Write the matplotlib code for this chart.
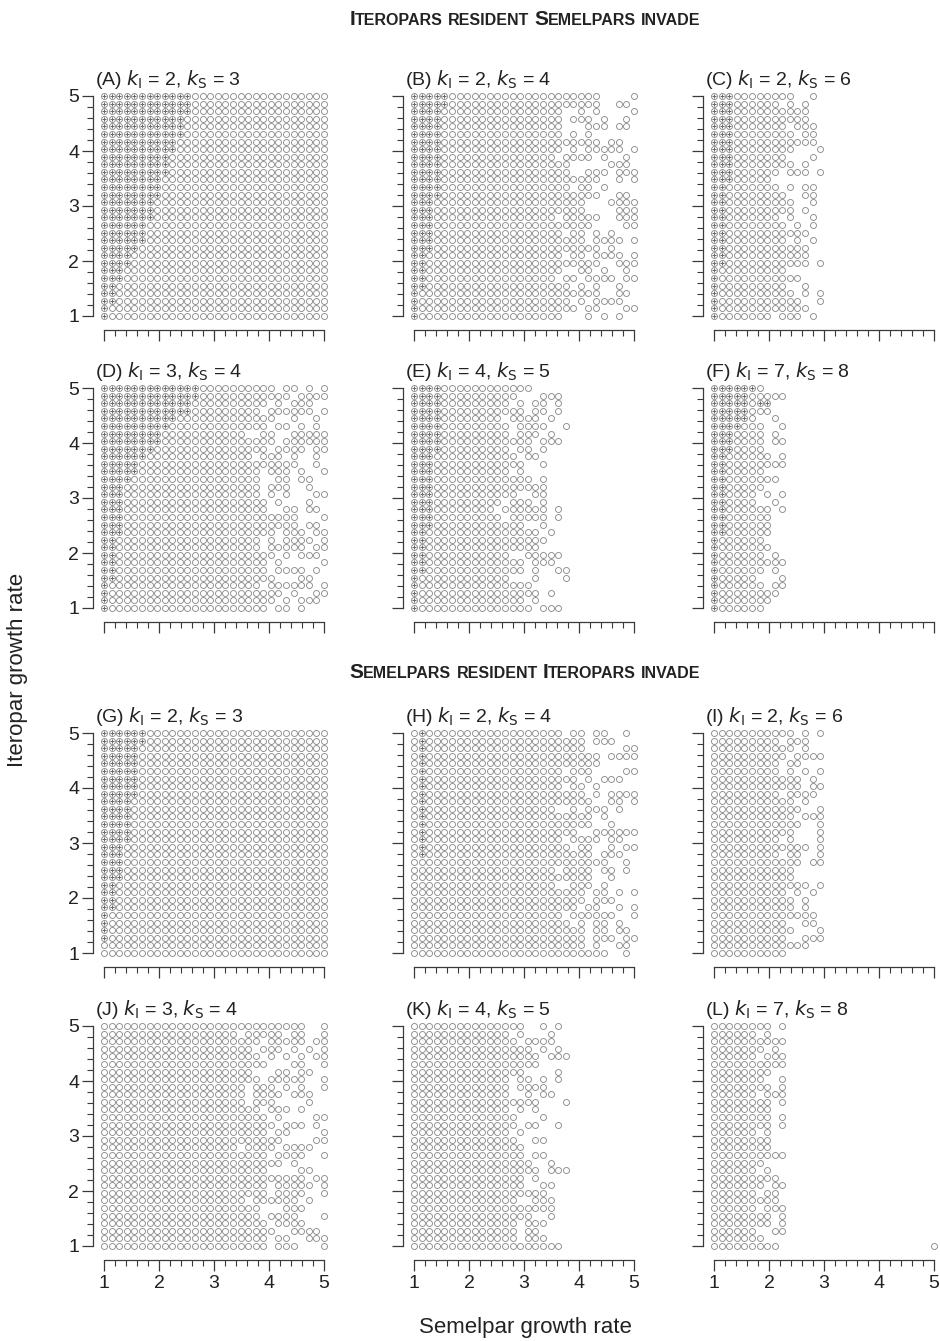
import numpy as np
import matplotlib
matplotlib.use("Agg")
import matplotlib.pyplot as plt

NARROW = ['Liberation Sans Narrow', 'Liberation Sans', 'DejaVu Sans']
plt.rcParams['font.family'] = NARROW
plt.rcParams['mathtext.fontset'] = 'custom'
plt.rcParams['mathtext.rm'] = 'Liberation Sans Narrow'
plt.rcParams['mathtext.it'] = 'Liberation Sans Narrow:italic'

# growth rates used on both axes (30 x 30 grid)
growth = np.linspace(1, 5, 30)
tick_labels = ['1', '2', '3', '4', '5']

titles = [r'(A) $k_\mathrm{I}$ = 2, $k_\mathrm{S}$ = 3', r'(B) $k_\mathrm{I}$ = 2, $k_\mathrm{S}$ = 4',
          r'(C) $k_\mathrm{I}$ = 2, $k_\mathrm{S}$ = 6', r'(D) $k_\mathrm{I}$ = 3, $k_\mathrm{S}$ = 4',
          r'(E) $k_\mathrm{I}$ = 4, $k_\mathrm{S}$ = 5', r'(F) $k_\mathrm{I}$ = 7, $k_\mathrm{S}$ = 8',
          r'(G) $k_\mathrm{I}$ = 2, $k_\mathrm{S}$ = 3', r'(H) $k_\mathrm{I}$ = 2, $k_\mathrm{S}$ = 4',
          r'(I) $k_\mathrm{I}$ = 2, $k_\mathrm{S}$ = 6', r'(J) $k_\mathrm{I}$ = 3, $k_\mathrm{S}$ = 4',
          r'(K) $k_\mathrm{I}$ = 4, $k_\mathrm{S}$ = 5', r'(L) $k_\mathrm{I}$ = 7, $k_\mathrm{S}$ = 8']

# each row is read top (iteropar rate 5) to bottom (rate 1); entries are
# column indices (semelpar rate 1 -> 0 ... 5 -> 29) that carry a circle
a_rows = ['0-29'] * 30
a_dots = ['0-11', '0-11', '0-11', '0-10', '0-10', '0-10', '0-9', '0-9', '0-8', '0-8',
          '0-8', '0-7', '0-7', '0-7', '0-6', '0-6', '0-6', '0-5', '0-5', '0-5',
          '0-4', '0-3', '0-3', '0-2', '0-2', '0-1', '0-1', '0-1', '0', '0']

b_rows = ['0-24,29', '0-24,27-28', '0-19,22,24,29', '0-19,21-23,25,28', '0-19,23-25,27-28',
          '0-19,21,23', '0-24,26-27', '0-19,21,23-27,29', '0-18,20-23,25,28', '0-20,26-28',
          '0-20,23-25,27-29', '0-24,27,29', '0-20,22-23,25', '0-24,27-28', '0-22,26-29',
          '0-22,27-29', '0-18,20-24,27-29', '0-23,28-29', '0-19,21-22,24,26', '0-22,24-27,29',
          '0-24,26', '0-19,21-22,24-27,29', '0-24,27-29', '0-19,22-23,25,28', '0-18,20-21,23-26,28-29',
          '0-20,22,24,27', '0-24,27-28', '0-20,22,24-27', '0-21,23-24,28-29', '0-19,23,25,27']
b_dots = ['0-4', '0-4', '0-3', '0-3', '0-3', '0-3', '0-3', '0-3', '0-3', '0-3',
          '0-3', '0-3', '0-3', '0-3', '0-2', '0-2', '0-2', '0-2', '0-2', '0-2',
          '0-2', '0-1', '0-1', '0-1', '0-1', '0-1', '0', '0', '0', '0']

c_rows = ['0-10,13', '0-8,10,12', '0-12', '0-12', '0-9,11-13', '0-10,12-13', '0-13', '0-10,14',
          '0-9,13', '0-10,12', '0-8,10-12,14', '0-7', '0-8,10,12-13', '0-9,12-13', '0-10,13',
          '0-10,12', '0-8,10,13', '0-9,11,13', '0-12', '0-9,11,13', '0-12', '0-12', '0-12,14',
          '0-9', '0-11', '0-9,12', '0-10,12,14', '0-11,14', '0-12', '0-7,9-11,13']
c_dots = ['0-2'] * 12 + ['0-1'] * 11 + ['0'] * 7

d_rows = ['0-22,24-25,27,29', '0-24,26-29', '0-21,23,25-27', '0-20,22-27,29', '0-22,25,28',
          '0-21,23-24,26,28', '0-18,21-22,25-29', '0-22,24-29', '0-21,23-26,28-29', '0-19,21-23,25,28',
          '0-25,28', '0-20,22-24,26,29', '0-20,23-24,26-27', '0-20,22-24,27', '0-20,22,24,28-29',
          '0-21,23,27', '0-21,24-25,27-28', '0-25,29', '0-25,27-28', '0-22,24-26,28-29',
          '0-20,22,24-27,29', '0-20,22-26,28-29', '0-22,24,26-28', '0-21,23,29', '0-21,23-26,28',
          '0-22,26-27', '0-20,22-27,29', '0-23,25,28-29', '0-22,24,26-28', '0-21,23-24,26']
d_dots = ['0-12', '0-12', '0-11', '0-11', '0-9', '0-8', '0-7', '0-7', '0-6', '0-5',
          '0-4', '0-4', '0-3', '0-2', '0-2', '0-2', '0-2', '0-2', '0-2', '0-2',
          '0-1', '0-1', '0-1', '0-1', '0-1', '0-1', '0', '0', '0', '0']

e_rows = ['0-15', '0-13,17-19', '0-12,14,16-17,19', '0-14,16-17,19', '0-11,13-16,18',
          '0-12,14-17,20', '0-12,14-16,18', '0-15,17-19', '0-12,14-15,17', '0-13,15-16',
          '0-14,17', '0-12,14', '0-15,17', '0-17', '0-13,16-17', '0-11,13-15,17', '0-10,12-17,19',
          '0-11,13-17,19', '0-14,17', '0-16,18', '0-17', '0-16', '0-12,15-19', '0-14,16-18',
          '0-14,16,19-20', '0-12,16,20', '0-15', '0-16,18', '0-14,16', '0-15,17-19']
e_dots = ['0-3'] * 9 + ['0-2'] * 10 + ['0-1'] * 6 + ['0'] * 5

f_rows = ['0-6', '0-9', '0-7', '0-7', '0-5,8', '0-6,9', '0-6,8', '0-6,8-9', '0-6', '0-7,9',
          '0-9', '0-6', '0-8', '0-6', '0-5,7,9', '0-5,8', '0-7,9', '0-7', '0-7', '0-7',
          '0-6', '0-7', '0-6,8', '0-9', '0-6,8', '0-5,9', '0-6,8-9', '0-8', '0-7', '0-6']
f_dots = ['0-5', '0-4', '0-4,6-7', '0-4', '0-4', '0-3', '0-2', '0-2', '0-2'] + ['0-1'] * 11 + ['0'] * 10

g_rows = ['0-29'] * 30
g_dots = ['0-5', '0-5', '0-4', '0-4', '0-4', '0-4', '0-4', '0-4', '0-4', '0-3',
          '0-3', '0-3', '0-3', '0-3', '0-3', '0-2', '0-2', '0-2', '0-2', '0-2',
          '0-1', '0-1', '0-1', '0-1', '0', '0', '0', '0', '', '']

h_rows = ['0-19,21-22,24-25,28', '0-22,24-26', '0-22,28-29', '0-24,26-29', '0-24',
          '0-19,21-23,28-29', '0-21,23,25-27', '0-19,21-22,24', '0-22,24,26-29', '0-23,26-27,29',
          '0-18,21,23-25,27', '0-23,25', '0-23,26', '0-21,24-29', '0-19,21-24,26-27',
          '0-20,22-23,26,28-29', '0-23,25-27', '0-25,28', '0-18,20-23,25-26,28', '0-23,26',
          '0-18,21-23,25', '0-22,24-25,27,29', '0-22,24-26', '0-21,23-24,27,29', '0-19,21-26,29',
          '0-20,22,24-25,27', '0-22,24-25,27-28', '0-22,24-26,28-29', '0-22,24,27-28', '0-25,28']
h_dots = ['1'] * 17 + [''] * 13

i_rows = ['0-10,12,14', '0-8,10-12', '0-10,12', '0-9,11-14', '0-8,10-11', '0-8,10,12,14',
          '0-11,13', '0-11,13-14', '0-8,10-13', '0-10,12', '0-11,14', '0-10,12-14', '0-11,14',
          '0-10,14', '0-8,10,14', '0-12,14', '0-8,10-11,14', '0-11,13-14', '0-10', '0-10',
          '0-12,14', '0-9,11,13', '0-10,12', '0-10,12', '0-13', '0-9,12-13', '0-10,14',
          '0-9,12-14', '0-12', '0-9']
i_dots = [''] * 30

j_rows = ['0-26,29', '0-17,19-23,25-26,29', '0-20,22-26,28-29', '0-19,21-23,25,27,29',
          '0-20,22,24,26,28-29', '0-21,25-26,29', '0-19,23-24,26-27', '0-20,22-26,29',
          '0-18,20-22,24,26,29', '0-18,20-23,25-27', '0-18,20-22,27', '0-20,22-24,26',
          '0-21,23,28-29', '0-22,24-26,28', '0-21,23-24,29', '0-23,28-29', '0-17,19-22,24-27',
          '0-21,23-26,29', '0-23,25', '0-21,26-27', '0-26,28-29', '0-21,23-27,29',
          '0-21,23-26,29', '0-18,20-25,27', '0-20,24-26', '0-20,22-25,29', '0-21,23-26',
          '0-22,25-28', '0-21,23-24,27-29', '0-21,23-25,29']
j_dots = [''] * 30

k_rows = ['0-14,17,19', '0-12,14,18', '0-13,15-18', '0-15,17,19', '0-16,18-20', '0-16',
          '0-14,19', '0-12,14-15,17,19', '0-12,14-17', '0-12,15,17-18', '0-16,20', '0-12,14,16',
          '0-13,17', '0-13,15-16,19', '0-12,14', '0-13,16-17', '0-14', '0-14,16-17', '0-15,18',
          '0-16,18-20', '0-14,16', '0-14,17-18', '0-17', '0-13,16-18', '0-18', '0-15,18',
          '0-13,15-17', '0-13,15-16', '0-13,15-17', '0-19']
k_dots = [''] * 30

l_rows = ['0-7,9', '0-5,7', '0-9', '0-6,8', '0-5,7-9', '0-9', '0-7', '0-6,9', '0-7,9', '0-5,7-9',
          '0-7,9', '0-7', '0-7,9', '0-7,9', '0-5,7', '0-7', '0-7', '0-9', '0-6', '0-5,7',
          '0-8', '0-6,8-9', '0-5,7-8', '0-8', '0-5,7-9', '0-7,9', '0-7,9', '0-5,8-9', '0-6', '0-8,29']
l_dots = [''] * 30

all_rows = [a_rows, b_rows, c_rows, d_rows, e_rows, f_rows,
            g_rows, h_rows, i_rows, j_rows, k_rows, l_rows]
all_dots = [a_dots, b_dots, c_dots, d_dots, e_dots, f_dots,
            g_dots, h_dots, i_dots, j_dots, k_dots, l_dots]


def cols(spec):
    out = []
    for part in spec.split(','):
        if part == '':
            continue
        if '-' in part:
            a, b = part.split('-')
            out.extend(range(int(a), int(b) + 1))
        else:
            out.append(int(part))
    return out


def points(rows):
    xs, ys = [], []
    for r, spec in enumerate(rows):
        for c in cols(spec):
            xs.append(growth[c])
            ys.append(growth[29 - r])
    return xs, ys


W, H = 940, 1341
fig = plt.figure(figsize=(W / 100, H / 100), dpi=100)

# pixel layout of the panels (x of rate 1, y of rate 5)
col_x = [104, 414, 714]
row_y = [96, 388, 733, 1026]
unit = 55.0  # pixels per growth-rate unit

circ_col = '#8c8c8c'
axis_col = '#3a3a3a'

for k in range(12):
    r, c = divmod(k, 3)
    left = col_x[c] - 0.2 * unit
    top = row_y[r] - 0.1 * unit
    w = 4.3 * unit
    h = 4.35 * unit
    ax = fig.add_axes([left / W, 1 - (top + h) / H, w / W, h / H])
    ax.set_xlim(0.8, 5.1)
    ax.set_ylim(0.75, 5.1)

    xs, ys = points(all_rows[k])
    ax.plot(xs, ys, 'o', ms=4.3, mfc='none', mec=circ_col, mew=0.65, clip_on=False)
    dx, dy = points(all_dots[k])
    if dx:
        ax.plot(dx, dy, '+', ms=3.0, mec='#6a6a6a', mew=0.75, clip_on=False)

    for s in ['top', 'right']:
        ax.spines[s].set_visible(False)
    for s in ['left', 'bottom']:
        ax.spines[s].set_bounds(1, 5)
        ax.spines[s].set_color(axis_col)
        ax.spines[s].set_linewidth(0.9)

    ax.set_xticks([1, 2, 3, 4, 5])
    ax.set_yticks([1, 2, 3, 4, 5])
    ax.set_xticks(np.arange(1, 5.01, 0.2), minor=True)
    ax.set_yticks(np.arange(1, 5.01, 0.2), minor=True)
    ax.tick_params(which='major', length=8, width=0.9, color=axis_col,
                   labelsize=14, pad=2, labelcolor='#222222')
    ax.tick_params(which='minor', length=4, width=0.8, color=axis_col)
    ax.tick_params(axis='x', pad=3)
    if c == 0:
        ax.set_yticklabels(tick_labels)
    else:
        ax.set_yticklabels([])
    if r == 3:
        ax.set_xticklabels(tick_labels)
    else:
        ax.set_xticklabels([])

    ax.text(0.83, 5.2, titles[k], fontsize=14, color='#222222',
            ha='left', va='baseline', clip_on=False)


def small_caps(y_px, parts):
    # parts: (text, size) pieces laid next to each other, centred at x=525 px
    renderer = fig.canvas.get_renderer()
    texts = []
    widths = []
    for txt, size in parts:
        if txt == ' ':
            t = None
            widths.append(size)
        else:
            t = fig.text(0, 1 - y_px / H, txt, fontsize=size, fontweight='bold',
                         color='#222222', ha='left', va='baseline')
            widths.append(t.get_window_extent(renderer).width)
        texts.append(t)
    x = 525 - sum(widths) / 2
    for t, wd in zip(texts, widths):
        if t is not None:
            t.set_x(x / W)
        x += wd


small_caps(25, [('I', 15), ('TEROPARS', 11.5), (' ', 5), ('RESIDENT', 11.5), (' ', 5),
                ('S', 15), ('EMELPARS', 11.5), (' ', 5), ('INVADE', 11.5)])
small_caps(678, [('S', 15), ('EMELPARS', 11.5), (' ', 5), ('RESIDENT', 11.5), (' ', 5),
                 ('I', 15), ('TEROPARS', 11.5), (' ', 5), ('INVADE', 11.5)])

fig.text(525 / W, 1 - 1327 / H, 'Semelpar growth rate', fontsize=16,
         color='#222222', ha='center', va='center')
fig.text(18 / W, 1 - 670 / H, 'Iteropar growth rate', fontsize=16,
         color='#222222', ha='center', va='center', rotation=90)

fig.savefig('out.png', dpi=100)
